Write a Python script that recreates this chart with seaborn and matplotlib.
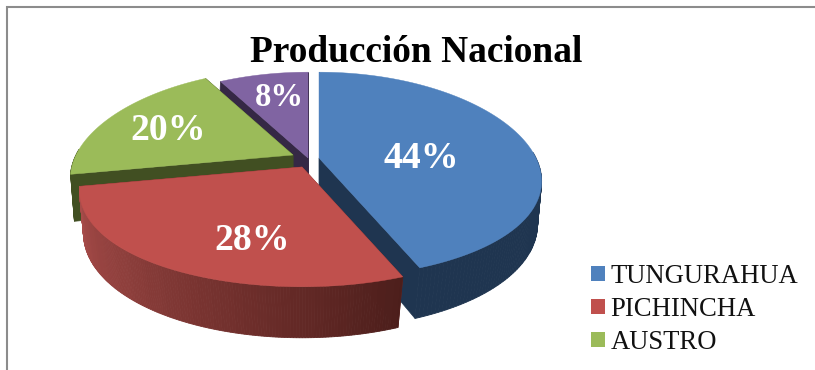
import numpy as np
import matplotlib
matplotlib.use("Agg")
import matplotlib.pyplot as plt
from matplotlib.patches import Patch, Polygon, Rectangle
import seaborn as sns

# Production share by region
regions = ["TUNGURAHUA", "PICHINCHA", "AUSTRO", "OTROS"]
shares = [44, 28, 20, 8]
top_colors = ["#4F81BD", "#C0504D", "#9BBB59", "#8064A2"]
wall_colors = ["#1F3550", "#7A302E", "#414F22", "#352845"]

sns.set_theme(style="white")
plt.rcParams["font.family"] = ["Liberation Serif", "DejaVu Serif"]

W, H = 815, 370
fig = plt.figure(figsize=(W / 100, H / 100), dpi=100, facecolor="white")
ax = fig.add_axes([0, 0, 1, 1])
ax.set_xlim(0, W)
ax.set_ylim(H, 0)
ax.axis("off")

# Perspective of the tilted disc, in pixels
RX, RY, KX, KY = 217.0, 100.0, 0.223, 0.165
BASE_DEPTH, DEPTH_SLOPE = 46.0, 5.0

# Pulled-out centre of each slice
apexes = [(319, 158), (302, 167), (293, 155), (308, 158)]
label_xy = [(421, 158), (252, 240), (168, 130), (279, 98)]
label_sizes = [27.2, 27.2, 27.2, 23.5]


def project(theta, apex, floor=False):
    """Project a unit-circle angle (radians) on to the picture plane."""
    cos_t, sin_t = np.cos(theta), np.sin(theta)
    x = RX * cos_t / (1 + KX * sin_t)
    y = -RY * sin_t / (1 + KY * sin_t)
    if floor:
        depth = BASE_DEPTH - DEPTH_SLOPE * sin_t
        shrink = 0.99 + 0.04 * sin_t
        return apex[0] + x * shrink, apex[1] + y + depth
    return apex[0] + x, apex[1] + y


def project_apex(apex, floor=False):
    return (apex[0], apex[1] + BASE_DEPTH) if floor else apex


# Slices run clockwise from twelve o'clock
edges = 90 - np.concatenate([[0], np.cumsum(shares)]) * 3.6
slices = []
for i, share in enumerate(shares):
    slices.append((i, np.radians(np.linspace(edges[i], edges[i + 1], 160))))

red_ramp = sns.blend_palette(["#A84C4A", "#8E3F3C", "#6E2E2B", "#4C1E1B"], 60)

# Back slices first, so nearer ones cover them
for i, thetas in [slices[3], slices[2], slices[0], slices[1]]:
    apex = apexes[i]
    # cut faces along both straight edges
    for edge in (thetas[0], thetas[-1]):
        cut = [project_apex(apex), project(edge, apex), project(edge, apex, True),
               project_apex(apex, True)]
        ax.add_patch(Polygon(cut, closed=True, fc=wall_colors[i], ec=wall_colors[i], lw=0.5))

    # outer rim, only where it faces the viewer
    front = thetas[np.sin(thetas) < 0.06]
    if len(front) > 1:
        n = len(front) - 1
        for j in range(n):
            a, b = front[j], front[j + 1]
            quad = [project(a, apex), project(b, apex),
                    project(b, apex, True), project(a, apex, True)]
            if i == 1:
                # the red rim darkens from left to right
                shade = red_ramp[int((n - 1 - j) / max(n - 1, 1) * (len(red_ramp) - 1))]
            else:
                shade = wall_colors[i]
            ax.add_patch(Polygon(quad, closed=True, fc=shade, ec=shade, lw=0.6))

    # top face
    rim = [project(t, apex) for t in thetas]
    ax.add_patch(Polygon([project_apex(apex)] + rim, closed=True,
                         fc=top_colors[i], ec=top_colors[i], lw=0.3))

for share, (x, y), size in zip(shares, label_xy, label_sizes):
    ax.text(x, y, f"{share}%", color="white", fontsize=size, fontweight="bold",
            ha="center", va="center")

ax.text(416.5, 52, "Producción Nacional", color="black", fontsize=26.9,
        fontweight="bold", ha="center", va="center")

# Only the first three entries fit inside the frame
handles = [Patch(fc=c, ec="none") for c in top_colors[:3]]
ax.legend(handles, regions[:3], loc="upper left", bbox_to_anchor=(591, 264),
          bbox_transform=ax.transData, frameon=False, fontsize=19.2,
          handlelength=0.53, handleheight=0.53, handletextpad=0.2,
          labelspacing=0.3, borderpad=0, borderaxespad=0, labelcolor="#111111")

# Chart frame, running off the right and bottom edges
fig.add_artist(Rectangle((6.5 / W, -0.1), 1.2, (H - 6.5) / H + 0.1,
                         transform=fig.transFigure, fc="none", ec="#8C8C8C", lw=1.5))

fig.savefig("out.png", dpi=100, facecolor="white")
